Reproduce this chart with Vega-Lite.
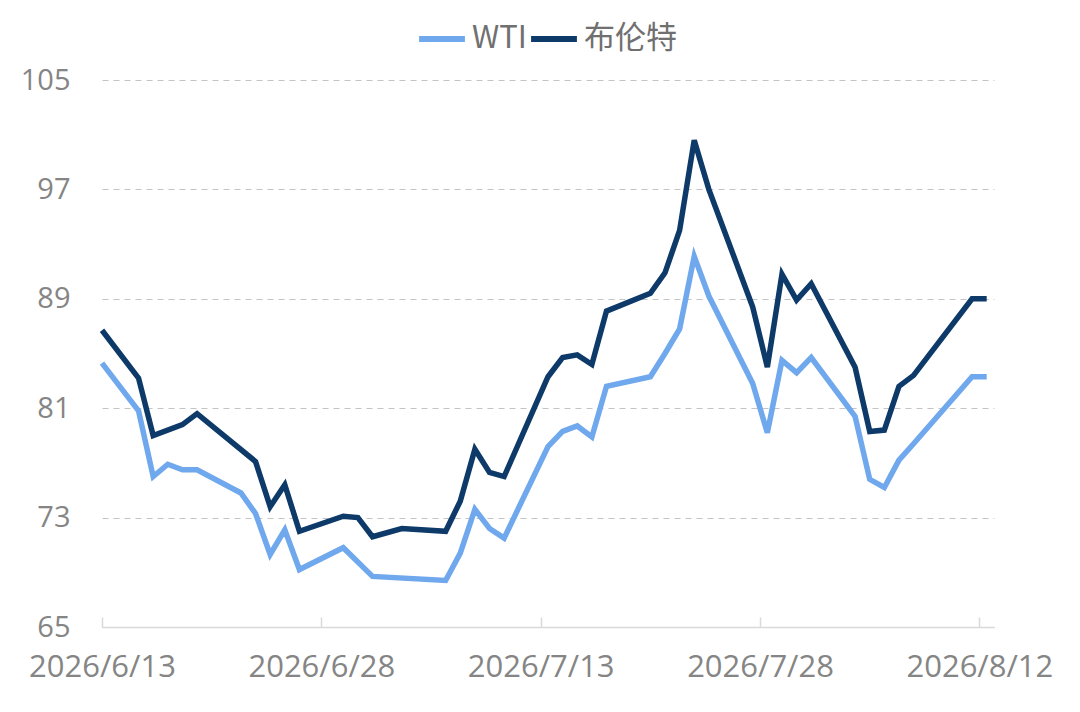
{
  "$schema": "https://vega.github.io/schema/vega-lite/v6.json",
  "autosize": {"type": "none"},
  "width": 892,
  "height": 547,
  "padding": {"left": 102, "top": 80, "right": 86, "bottom": 85},
  "background": "white",
  "config": {
    "view": {"stroke": null},
    "font": "Open Sans"
  },
  "data": {
    "values": [
      {"date": "2026-06-13T00:00:00", "series": "布伦特", "price": 86.7},
      {"date": "2026-06-15T12:00:00", "series": "布伦特", "price": 83.2},
      {"date": "2026-06-16T12:00:00", "series": "布伦特", "price": 79.0},
      {"date": "2026-06-18T12:00:00", "series": "布伦特", "price": 79.8},
      {"date": "2026-06-19T12:00:00", "series": "布伦特", "price": 80.6},
      {"date": "2026-06-23T12:00:00", "series": "布伦特", "price": 77.1},
      {"date": "2026-06-24T12:00:00", "series": "布伦特", "price": 73.8},
      {"date": "2026-06-25T12:00:00", "series": "布伦特", "price": 75.4},
      {"date": "2026-06-26T12:00:00", "series": "布伦特", "price": 72.0},
      {"date": "2026-06-29T12:00:00", "series": "布伦特", "price": 73.1},
      {"date": "2026-06-30T12:00:00", "series": "布伦特", "price": 73.0},
      {"date": "2026-07-01T12:00:00", "series": "布伦特", "price": 71.6},
      {"date": "2026-07-03T12:00:00", "series": "布伦特", "price": 72.2},
      {"date": "2026-07-06T12:00:00", "series": "布伦特", "price": 72.0},
      {"date": "2026-07-07T12:00:00", "series": "布伦特", "price": 74.2},
      {"date": "2026-07-08T12:00:00", "series": "布伦特", "price": 78.0},
      {"date": "2026-07-09T12:00:00", "series": "布伦特", "price": 76.3},
      {"date": "2026-07-10T12:00:00", "series": "布伦特", "price": 76.0},
      {"date": "2026-07-13T12:00:00", "series": "布伦特", "price": 83.3},
      {"date": "2026-07-14T12:00:00", "series": "布伦特", "price": 84.7},
      {"date": "2026-07-15T12:00:00", "series": "布伦特", "price": 84.9},
      {"date": "2026-07-16T12:00:00", "series": "布伦特", "price": 84.2},
      {"date": "2026-07-17T12:00:00", "series": "布伦特", "price": 88.1},
      {"date": "2026-07-20T12:00:00", "series": "布伦特", "price": 89.4},
      {"date": "2026-07-21T12:00:00", "series": "布伦特", "price": 90.9},
      {"date": "2026-07-22T12:00:00", "series": "布伦特", "price": 94.0},
      {"date": "2026-07-23T12:00:00", "series": "布伦特", "price": 100.6},
      {"date": "2026-07-24T12:00:00", "series": "布伦特", "price": 97.0},
      {"date": "2026-07-27T12:00:00", "series": "布伦特", "price": 88.4},
      {"date": "2026-07-28T12:00:00", "series": "布伦特", "price": 84.0},
      {"date": "2026-07-29T12:00:00", "series": "布伦特", "price": 90.8},
      {"date": "2026-07-30T12:00:00", "series": "布伦特", "price": 88.9},
      {"date": "2026-07-31T12:00:00", "series": "布伦特", "price": 90.1},
      {"date": "2026-08-03T12:00:00", "series": "布伦特", "price": 84.0},
      {"date": "2026-08-04T12:00:00", "series": "布伦特", "price": 79.3},
      {"date": "2026-08-05T12:00:00", "series": "布伦特", "price": 79.4},
      {"date": "2026-08-06T12:00:00", "series": "布伦特", "price": 82.6},
      {"date": "2026-08-07T12:00:00", "series": "布伦特", "price": 83.4},
      {"date": "2026-08-11T12:00:00", "series": "布伦特", "price": 89.0},
      {"date": "2026-08-12T12:00:00", "series": "布伦特", "price": 89.0},
      {"date": "2026-06-13T00:00:00", "series": "WTI", "price": 84.3},
      {"date": "2026-06-15T12:00:00", "series": "WTI", "price": 80.8},
      {"date": "2026-06-16T12:00:00", "series": "WTI", "price": 76.0},
      {"date": "2026-06-17T12:00:00", "series": "WTI", "price": 76.9},
      {"date": "2026-06-18T12:00:00", "series": "WTI", "price": 76.5},
      {"date": "2026-06-19T12:00:00", "series": "WTI", "price": 76.5},
      {"date": "2026-06-22T12:00:00", "series": "WTI", "price": 74.8},
      {"date": "2026-06-23T12:00:00", "series": "WTI", "price": 73.3},
      {"date": "2026-06-24T12:00:00", "series": "WTI", "price": 70.3},
      {"date": "2026-06-25T12:00:00", "series": "WTI", "price": 72.1},
      {"date": "2026-06-26T12:00:00", "series": "WTI", "price": 69.2},
      {"date": "2026-06-29T12:00:00", "series": "WTI", "price": 70.8},
      {"date": "2026-07-01T12:00:00", "series": "WTI", "price": 68.7},
      {"date": "2026-07-06T12:00:00", "series": "WTI", "price": 68.4},
      {"date": "2026-07-07T12:00:00", "series": "WTI", "price": 70.4},
      {"date": "2026-07-08T12:00:00", "series": "WTI", "price": 73.6},
      {"date": "2026-07-09T12:00:00", "series": "WTI", "price": 72.2},
      {"date": "2026-07-10T12:00:00", "series": "WTI", "price": 71.5},
      {"date": "2026-07-13T12:00:00", "series": "WTI", "price": 78.2},
      {"date": "2026-07-14T12:00:00", "series": "WTI", "price": 79.3},
      {"date": "2026-07-15T12:00:00", "series": "WTI", "price": 79.7},
      {"date": "2026-07-16T12:00:00", "series": "WTI", "price": 78.9},
      {"date": "2026-07-17T12:00:00", "series": "WTI", "price": 82.6},
      {"date": "2026-07-20T12:00:00", "series": "WTI", "price": 83.3},
      {"date": "2026-07-21T12:00:00", "series": "WTI", "price": 85.0},
      {"date": "2026-07-22T12:00:00", "series": "WTI", "price": 86.8},
      {"date": "2026-07-23T12:00:00", "series": "WTI", "price": 92.1},
      {"date": "2026-07-24T12:00:00", "series": "WTI", "price": 89.2},
      {"date": "2026-07-27T12:00:00", "series": "WTI", "price": 82.8},
      {"date": "2026-07-28T12:00:00", "series": "WTI", "price": 79.2},
      {"date": "2026-07-29T12:00:00", "series": "WTI", "price": 84.5},
      {"date": "2026-07-30T12:00:00", "series": "WTI", "price": 83.6},
      {"date": "2026-07-31T12:00:00", "series": "WTI", "price": 84.7},
      {"date": "2026-08-03T12:00:00", "series": "WTI", "price": 80.4},
      {"date": "2026-08-04T12:00:00", "series": "WTI", "price": 75.8},
      {"date": "2026-08-05T12:00:00", "series": "WTI", "price": 75.2},
      {"date": "2026-08-06T12:00:00", "series": "WTI", "price": 77.2},
      {"date": "2026-08-07T12:00:00", "series": "WTI", "price": 78.4},
      {"date": "2026-08-11T12:00:00", "series": "WTI", "price": 83.3},
      {"date": "2026-08-12T12:00:00", "series": "WTI", "price": 83.3}
    ]
  },
  "mark": {"type": "line", "strokeWidth": 5.5, "strokeJoin": "miter", "strokeCap": "butt"},
  "encoding": {
    "x": {
      "field": "date",
      "type": "temporal",
      "scale": {
        "domain": [
          {"year": 2026, "month": 6, "date": 13},
          {"year": 2026, "month": 8, "date": 13}
        ]
      },
      "axis": {
        "title": null,
        "values": [
          {"year": 2026, "month": 6, "date": 13},
          {"year": 2026, "month": 6, "date": 28},
          {"year": 2026, "month": 7, "date": 13},
          {"year": 2026, "month": 7, "date": 28},
          {"year": 2026, "month": 8, "date": 12}
        ],
        "format": "%Y/%-m/%-d",
        "labelFont": "Open Sans",
        "labelFontSize": 31,
        "labelColor": "#858585",
        "labelPadding": 35,
        "labelFlush": false,
        "labelOverlap": false,
        "domainColor": "#d9d9d9",
        "domainWidth": 1.5,
        "tickColor": "#d9d9d9",
        "tickWidth": 1.5,
        "tickSize": -10,
        "grid": false
      }
    },
    "y": {
      "field": "price",
      "type": "quantitative",
      "scale": {"domain": [65, 105], "nice": false, "zero": false},
      "axis": {
        "title": null,
        "values": [65, 73, 81, 89, 97, 105],
        "labelFont": "Open Sans",
        "labelFontSize": 29,
        "labelColor": "#858585",
        "labelPadding": 32,
        "domain": false,
        "ticks": false,
        "grid": true,
        "gridColor": "#c4c4c4",
        "gridDash": [6, 5],
        "gridWidth": 1.2
      }
    },
    "color": {
      "field": "series",
      "type": "nominal",
      "scale": {"domain": ["WTI", "布伦特"], "range": ["#6FA8EC", "#0D3A68"]},
      "legend": {
        "title": null,
        "orient": "none",
        "legendX": 314,
        "legendY": -67,
        "direction": "horizontal",
        "symbolType": "stroke",
        "symbolStrokeWidth": 6,
        "symbolSize": 2100,
        "labelFont": "Noto Sans CJK SC",
        "labelFontSize": 31,
        "labelColor": "#707070",
        "labelOffset": 4,
        "columnPadding": -8
      }
    }
  }
}
